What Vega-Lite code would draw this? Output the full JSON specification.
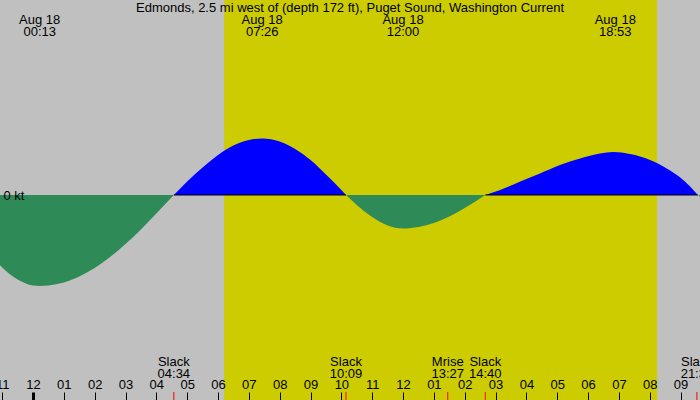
{
  "$schema": "https://vega.github.io/schema/vega-lite/v6.json",
  "width": 700,
  "height": 400,
  "autosize": "none",
  "padding": 0,
  "background": "#c0c0c0",
  "title": {
    "text": "Edmonds, 2.5 mi west of (depth 172 ft), Puget Sound, Washington Current",
    "anchor": "middle",
    "offset": -15,
    "fontSize": 13,
    "fontWeight": "normal",
    "color": "black"
  },
  "datasets": {
    "daylight": [{"hour": 6.2, "end": 20.24}],
    "curve": [
      {"hour": -1.2, "kt": -1.32, "seg": 1, "dir": "ebb"},
      {"hour": -1.0, "kt": -1.45, "seg": 1, "dir": "ebb"},
      {"hour": -0.5, "kt": -1.69, "seg": 1, "dir": "ebb"},
      {"hour": 0.0, "kt": -1.81, "seg": 1, "dir": "ebb"},
      {"hour": 0.217, "kt": -1.82, "seg": 1, "dir": "ebb"},
      {"hour": 0.5, "kt": -1.81, "seg": 1, "dir": "ebb"},
      {"hour": 1.0, "kt": -1.75, "seg": 1, "dir": "ebb"},
      {"hour": 1.5, "kt": -1.63, "seg": 1, "dir": "ebb"},
      {"hour": 2.0, "kt": -1.46, "seg": 1, "dir": "ebb"},
      {"hour": 2.5, "kt": -1.24, "seg": 1, "dir": "ebb"},
      {"hour": 3.0, "kt": -0.98, "seg": 1, "dir": "ebb"},
      {"hour": 3.5, "kt": -0.69, "seg": 1, "dir": "ebb"},
      {"hour": 4.0, "kt": -0.37, "seg": 1, "dir": "ebb"},
      {"hour": 4.567, "kt": 0, "seg": 1, "dir": "ebb"},
      {"hour": 4.567, "kt": 0, "seg": 2, "dir": "flood"},
      {"hour": 5.0, "kt": 0.27, "seg": 2, "dir": "flood"},
      {"hour": 5.5, "kt": 0.55, "seg": 2, "dir": "flood"},
      {"hour": 6.0, "kt": 0.8, "seg": 2, "dir": "flood"},
      {"hour": 6.5, "kt": 0.99, "seg": 2, "dir": "flood"},
      {"hour": 7.0, "kt": 1.1, "seg": 2, "dir": "flood"},
      {"hour": 7.433, "kt": 1.13, "seg": 2, "dir": "flood"},
      {"hour": 8.0, "kt": 1.07, "seg": 2, "dir": "flood"},
      {"hour": 8.5, "kt": 0.92, "seg": 2, "dir": "flood"},
      {"hour": 9.0, "kt": 0.7, "seg": 2, "dir": "flood"},
      {"hour": 9.5, "kt": 0.41, "seg": 2, "dir": "flood"},
      {"hour": 10.0, "kt": 0.1, "seg": 2, "dir": "flood"},
      {"hour": 10.15, "kt": 0, "seg": 2, "dir": "flood"},
      {"hour": 10.15, "kt": 0, "seg": 3, "dir": "ebb"},
      {"hour": 10.5, "kt": -0.2, "seg": 3, "dir": "ebb"},
      {"hour": 11.0, "kt": -0.44, "seg": 3, "dir": "ebb"},
      {"hour": 11.5, "kt": -0.61, "seg": 3, "dir": "ebb"},
      {"hour": 12.0, "kt": -0.67, "seg": 3, "dir": "ebb"},
      {"hour": 12.5, "kt": -0.64, "seg": 3, "dir": "ebb"},
      {"hour": 13.0, "kt": -0.56, "seg": 3, "dir": "ebb"},
      {"hour": 13.5, "kt": -0.43, "seg": 3, "dir": "ebb"},
      {"hour": 14.0, "kt": -0.26, "seg": 3, "dir": "ebb"},
      {"hour": 14.667, "kt": 0, "seg": 3, "dir": "ebb"},
      {"hour": 14.667, "kt": 0, "seg": 4, "dir": "flood"},
      {"hour": 15.15, "kt": 0.1, "seg": 4, "dir": "flood"},
      {"hour": 15.8, "kt": 0.27, "seg": 4, "dir": "flood"},
      {"hour": 16.44, "kt": 0.43, "seg": 4, "dir": "flood"},
      {"hour": 17.09, "kt": 0.6, "seg": 4, "dir": "flood"},
      {"hour": 17.74, "kt": 0.73, "seg": 4, "dir": "flood"},
      {"hour": 18.39, "kt": 0.83, "seg": 4, "dir": "flood"},
      {"hour": 18.82, "kt": 0.86, "seg": 4, "dir": "flood"},
      {"hour": 19.36, "kt": 0.82, "seg": 4, "dir": "flood"},
      {"hour": 20.01, "kt": 0.7, "seg": 4, "dir": "flood"},
      {"hour": 20.55, "kt": 0.53, "seg": 4, "dir": "flood"},
      {"hour": 20.99, "kt": 0.35, "seg": 4, "dir": "flood"},
      {"hour": 21.31, "kt": 0.17, "seg": 4, "dir": "flood"},
      {"hour": 21.56, "kt": 0, "seg": 4, "dir": "flood"},
      {"hour": 21.56, "kt": 0, "seg": 5, "dir": "ebb"},
      {"hour": 21.8, "kt": -0.12, "seg": 5, "dir": "ebb"},
      {"hour": 22.1, "kt": -0.27, "seg": 5, "dir": "ebb"}
    ],
    "floods": [
      {"hour": 4.567, "end": 10.15},
      {"hour": 14.667, "end": 21.56}
    ],
    "events": [
      {"hour": 4.567, "what": "Slack", "time": "04:34"},
      {"hour": 10.15, "what": "Slack", "time": "10:09"},
      {"hour": 13.45, "what": "Mrise", "time": "13:27"},
      {"hour": 14.667, "what": "Slack", "time": "14:40"},
      {"hour": 21.53, "what": "Slack", "time": "21:32"}
    ],
    "peaks": [
      {"hour": 0.217, "date": "Aug 18", "time": "00:13"},
      {"hour": 7.433, "date": "Aug 18", "time": "07:26"},
      {"hour": 12.0, "date": "Aug 18", "time": "12:00"},
      {"hour": 18.883, "date": "Aug 18", "time": "18:53"}
    ]
  },
  "encoding": {
    "x": {
      "field": "hour",
      "type": "quantitative",
      "scale": {"domain": [-1.07, 21.63], "nice": false, "zero": false},
      "axis": {
        "orient": "top",
        "offset": -400,
        "title": null,
        "values": [-1, 0, 1, 2, 3, 4, 5, 6, 7, 8, 9, 10, 11, 12, 13, 14, 15, 16, 17, 18, 19, 20, 21],
        "labelExpr": "format((datum.value % 12 + 12) % 12 == 0 ? 12 : (datum.value % 12 + 12) % 12, '02d')",
        "domain": false,
        "grid": false,
        "tickSize": 8,
        "tickColor": "black",
        "tickWidth": {"condition": {"test": "datum.value == 0", "value": 3}, "value": 1},
        "labelPadding": 1,
        "labelFlush": false,
        "labelOverlap": false,
        "labelFontSize": 13,
        "labelColor": "black",
        "zindex": 1
      }
    }
  },
  "layer": [
    {
      "data": {"name": "daylight"},
      "mark": {"type": "rect", "color": "#cccc00"},
      "encoding": {"x2": {"field": "end"}}
    },
    {
      "data": {"name": "curve"},
      "mark": {"type": "area", "interpolate": "monotone"},
      "encoding": {
        "y": {
          "field": "kt",
          "type": "quantitative",
          "stack": null,
          "scale": {"domain": [-4.1, 3.9], "nice": false, "zero": false},
          "axis": {
            "orient": "left",
            "offset": -25,
            "title": null,
            "values": [0],
            "labelExpr": "'0 kt'",
            "ticks": false,
            "domain": false,
            "grid": false,
            "labelPadding": 1,
            "labelFontSize": 13,
            "labelColor": "black",
            "zindex": 1
          }
        },
        "y2": {"datum": 0},
        "color": {
          "field": "dir",
          "type": "nominal",
          "scale": {"domain": ["flood", "ebb"], "range": ["#0000ff", "#2e8b57"]},
          "legend": null
        },
        "detail": {"field": "seg"}
      }
    },
    {
      "data": {"name": "floods"},
      "mark": {"type": "rule", "color": "black", "strokeWidth": 1},
      "encoding": {"x2": {"field": "end"}, "y": {"datum": 0}}
    },
    {
      "data": {"name": "events"},
      "mark": {"type": "rule", "color": "#ff0000", "strokeWidth": 1},
      "encoding": {"y": {"datum": -3.94}, "y2": {"datum": -4.1}}
    },
    {
      "data": {"name": "events"},
      "mark": {"type": "text", "fontSize": 13, "color": "black", "baseline": "middle"},
      "encoding": {"y": {"datum": -3.33}, "text": {"field": "what"}}
    },
    {
      "data": {"name": "events"},
      "mark": {"type": "text", "fontSize": 13, "color": "black", "baseline": "middle"},
      "encoding": {"y": {"datum": -3.57}, "text": {"field": "time"}}
    },
    {
      "data": {"name": "peaks"},
      "mark": {"type": "text", "fontSize": 13, "color": "black", "baseline": "middle"},
      "encoding": {"y": {"datum": 3.51}, "text": {"field": "date"}}
    },
    {
      "data": {"name": "peaks"},
      "mark": {"type": "text", "fontSize": 13, "color": "black", "baseline": "middle"},
      "encoding": {"y": {"datum": 3.27}, "text": {"field": "time"}}
    }
  ],
  "config": {
    "font": "Liberation Sans",
    "view": {"stroke": null, "fill": "#c0c0c0"}
  }
}
